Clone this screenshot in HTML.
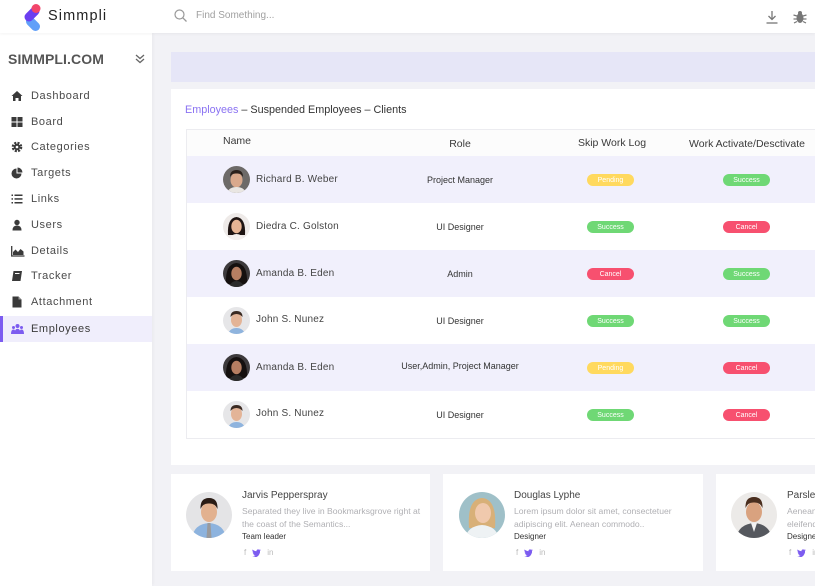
<!DOCTYPE html>
<html><head><meta charset="utf-8">
<style>
*{margin:0;padding:0;box-sizing:border-box}
html,body{width:815px;height:586px;overflow:hidden}
body{background:#f2f2f6;font-family:"Liberation Sans",sans-serif;position:relative}
.abs{position:absolute}
#hdr{left:0;top:0;width:815px;height:33px;background:#fff;box-shadow:0 1px 3px rgba(0,0,0,0.05);z-index:3}
#side{left:0;top:33px;width:152px;height:553px;background:#fff;box-shadow:1px 0 3px rgba(0,0,0,0.04);z-index:2}
.mi{position:absolute;left:0;width:152px;height:26px;font-size:11px;letter-spacing:0.6px;color:#4a4a4a;line-height:26px;padding-left:31px}
.mi svg{position:absolute;left:11px;top:7px}
.band{left:171px;top:52px;width:644px;height:30px;background:#e6e6f7}
.main{left:171px;top:89px;width:644px;height:376px;background:#fff}
.tbl{left:186px;top:129px;width:629px;height:310px;border:1px solid #ececf0;border-right:none;background:#fff;overflow:hidden}
.th{position:absolute;font-size:10.5px;color:#3a3a3a;top:0;height:26px;line-height:28px;white-space:nowrap}
.row{position:absolute;left:0;width:629px;height:47px}
.row.alt{background:#f1f0fc}
.av{position:absolute;left:36px;top:10px;width:27px;height:27px;border-radius:50%;overflow:hidden}
.nm{position:absolute;left:69px;top:0;line-height:47px;font-size:10px;color:#444;letter-spacing:0.2px}
.rl{position:absolute;left:203px;width:140px;text-align:center;line-height:47px;font-size:9px;color:#333;top:1px}
.bd{position:absolute;width:47px;height:12px;border-radius:6px;color:#fff;font-size:7px;top:18px;display:flex;align-items:center;justify-content:center}
.pe{background:#ffd95e}.su{background:#6fd875}.ca{background:#f7506f}
.c1{left:400px}.c2{left:536px}
.card{top:474px;height:97px;background:#fff;overflow:hidden}
.cav{position:absolute;left:15px;top:18px;width:46px;height:46px;border-radius:50%;overflow:hidden}
.cn{position:absolute;left:71px;top:16px;font-size:10px;color:#444;white-space:nowrap}
.cd{position:absolute;left:71px;top:31px;font-size:8.6px;color:#b0b0b4;line-height:12.5px;white-space:nowrap}
.cr{position:absolute;left:71px;top:58px;font-size:8px;color:#333;white-space:nowrap}
.cs{position:absolute;left:73px;top:74px;font-size:8px;color:#bbb;white-space:nowrap;display:flex;align-items:center;gap:6px}
</style></head><body>

<div id="hdr" class="abs">
  <svg class="abs" style="left:0;top:0" width="45" height="33" viewBox="0 0 45 33">
    <line x1="30.5" y1="21.5" x2="35.5" y2="26.5" stroke="#62a0f8" stroke-width="9" stroke-linecap="round"/>
    <line x1="35" y1="11" x2="29" y2="17" stroke="#6b3ef0" stroke-width="9" stroke-linecap="round"/>
    <circle cx="36" cy="8.5" r="4.5" fill="#f2456a"/>
  </svg>
  <div class="abs" style="left:48px;top:8px;font-size:14.5px;letter-spacing:1.1px;color:#222">Simmpli</div>
  <svg class="abs" style="left:174px;top:9px" width="13" height="13" viewBox="0 0 13 13"><circle cx="5.5" cy="5.5" r="4.5" fill="none" stroke="#999" stroke-width="1.2"/><line x1="8.8" y1="8.8" x2="12.5" y2="12.5" stroke="#999" stroke-width="1.3"/></svg>
  <div class="abs" style="left:196px;top:10px;font-size:10px;color:#a0a0a0">Find Something...</div>
  <svg class="abs" style="left:766px;top:10px" width="12" height="14" viewBox="0 0 12 14"><line x1="6" y1="1" x2="6" y2="9" stroke="#777" stroke-width="1.3"/><polyline points="2.5,6 6,9.5 9.5,6" fill="none" stroke="#777" stroke-width="1.3"/><line x1="0.5" y1="13" x2="11.5" y2="13" stroke="#777" stroke-width="1.3"/></svg>
  <svg class="abs" style="left:793px;top:10px" width="14" height="14" viewBox="0 0 14 14"><ellipse cx="7" cy="8" rx="3.5" ry="5" fill="#777"/><circle cx="7" cy="3" r="2" fill="#777"/><g stroke="#777" stroke-width="1.2"><line x1="0.5" y1="5" x2="4" y2="6"/><line x1="13.5" y1="5" x2="10" y2="6"/><line x1="0.5" y1="9" x2="4" y2="9"/><line x1="13.5" y1="9" x2="10" y2="9"/><line x1="1" y1="13" x2="4" y2="11.5"/><line x1="13" y1="13" x2="10" y2="11.5"/></g></svg>
</div>

<div id="side" class="abs">
  <div class="abs" style="left:8px;top:18px;font-size:14px;font-weight:bold;color:#555;letter-spacing:0.1px">SIMMPLI.COM</div>
  <svg class="abs" style="left:135px;top:21px" width="10" height="10" viewBox="0 0 10 10"><polyline points="1,1 5,4.5 9,1" fill="none" stroke="#666" stroke-width="1.3"/><polyline points="1,5 5,8.5 9,5" fill="none" stroke="#666" stroke-width="1.3"/></svg>

  <div class="mi" style="top:50px"><svg width="12" height="12" viewBox="0 0 12 12"><path d="M6 1 L11.5 6 L10 6 L10 11 L7.5 11 L7.5 8 L4.5 8 L4.5 11 L2 11 L2 6 L0.5 6Z" fill="#3a3a3a"/></svg>Dashboard</div>
  <div class="mi" style="top:76px"><svg width="12" height="12" viewBox="0 0 12 12"><rect x="0.5" y="1" width="5" height="4.5" fill="#3a3a3a"/><rect x="6.5" y="1" width="5" height="4.5" fill="#3a3a3a"/><rect x="0.5" y="6.5" width="5" height="4.5" fill="#3a3a3a"/><rect x="6.5" y="6.5" width="5" height="4.5" fill="#3a3a3a"/></svg>Board</div>
  <div class="mi" style="top:101px"><svg width="12" height="12" viewBox="0 0 12 12"><circle cx="6" cy="6" r="4" fill="none" stroke="#3a3a3a" stroke-width="2.6" stroke-dasharray="2 1.2"/><circle cx="6" cy="6" r="3.2" fill="#3a3a3a"/><circle cx="6" cy="6" r="1.3" fill="#fff"/></svg>Categories</div>
  <div class="mi" style="top:127px"><svg width="12" height="12" viewBox="0 0 12 12"><path d="M5.5 1.5 A5 5 0 1 0 10.5 6.5 L5.5 6.5Z" fill="#3a3a3a"/><path d="M6.5 0.5 A5 5 0 0 1 11.5 5.5 L6.5 5.5Z" fill="#3a3a3a"/></svg>Targets</div>
  <div class="mi" style="top:153px"><svg width="12" height="12" viewBox="0 0 12 12"><g fill="#3a3a3a"><rect x="0.5" y="1.5" width="1.5" height="1.5"/><rect x="0.5" y="5.2" width="1.5" height="1.5"/><rect x="0.5" y="9" width="1.5" height="1.5"/><rect x="3.5" y="1.5" width="8" height="1.5"/><rect x="3.5" y="5.2" width="8" height="1.5"/><rect x="3.5" y="9" width="8" height="1.5"/></g></svg>Links</div>
  <div class="mi" style="top:179px"><svg width="12" height="12" viewBox="0 0 12 12"><circle cx="6" cy="3.5" r="2.7" fill="#3a3a3a"/><path d="M1.5 11.5 Q1.5 6.5 6 6.5 Q10.5 6.5 10.5 11.5Z" fill="#3a3a3a"/></svg>Users</div>
  <div class="mi" style="top:205px"><svg width="14" height="12" viewBox="0 0 14 12"><path d="M0.7 1 L0.7 11 L13.5 11" fill="none" stroke="#3a3a3a" stroke-width="1.3"/><path d="M2 10 L2 7 L4.5 4.5 L7 7 L9.5 4 L12.5 6.5 L12.5 10Z" fill="#3a3a3a"/></svg>Details</div>
  <div class="mi" style="top:230px"><svg width="12" height="12" viewBox="0 0 12 12"><path d="M2.5 1 L11 1 L9.5 11 L1 11Z" fill="#3a3a3a"/><rect x="4" y="3" width="4.5" height="1" fill="#fff"/></svg>Tracker</div>
  <div class="mi" style="top:256px"><svg width="12" height="12" viewBox="0 0 12 12"><path d="M1.5 0.5 L7.5 0.5 L10.5 3.5 L10.5 11.5 L1.5 11.5Z" fill="#3a3a3a"/><path d="M7.5 0.5 L7.5 3.5 L10.5 3.5" fill="#999"/></svg>Attachment</div>
  <div class="mi" style="top:283px;background:#f0eefc;height:26px;color:#3a3a3a"><div class="abs" style="left:0;top:0;width:3px;height:26px;background:#7c5cf0"></div><svg width="13" height="12" viewBox="0 0 13 12"><g fill="#7c5cf0"><circle cx="6.5" cy="3" r="2"/><circle cx="2.5" cy="4.5" r="1.5"/><circle cx="10.5" cy="4.5" r="1.5"/><path d="M3.5 11 Q3.5 5.7 6.5 5.7 Q9.5 5.7 9.5 11Z"/><path d="M0 11 Q0 6.5 2.5 6.5 Q4 6.5 4 8 L4 11Z"/><path d="M13 11 Q13 6.5 10.5 6.5 Q9 6.5 9 8 L9 11Z"/></g></svg>Employees</div>
</div>

<div class="abs band"></div>
<div class="abs main">
  <div class="abs" style="left:14px;top:15px;font-size:10.8px;color:#333;white-space:nowrap"><span style="color:#8a72f2">Employees</span> – Suspended Employees – Clients</div>
</div>

<div class="abs tbl">
  <div class="abs" style="left:0;top:0;width:629px;height:26px;background:#fcfcfc"></div>
  <div class="th" style="left:36px;top:-3px">Name</div>
  <div class="th" style="left:203px;width:140px;text-align:center">Role</div>
  <div class="th" style="left:370px;width:110px;text-align:center;top:-1px">Skip Work Log</div>
  <div class="th" style="left:490px;width:140px;text-align:center">Work Activate/Desctivate</div>

  <div class="row alt" style="top:26px">
    <div class="av"><svg width="27" height="27" viewBox="0 0 27 27"><rect width="27" height="27" fill="#6d6a68"/><ellipse cx="13.5" cy="14" rx="6" ry="7.5" fill="#d9a98c"/><path d="M7 11 Q7 4 13.5 4 Q20 4 20 11 Q18 7 13.5 7.5 Q9 7 7 11Z" fill="#2b211c"/><path d="M4 27 Q6 21 13.5 21 Q21 21 23 27Z" fill="#e9e6e2"/></svg></div>
    <div class="nm">Richard B. Weber</div><div class="rl">Project Manager</div>
    <div class="bd pe c1">Pending</div><div class="bd su c2">Success</div>
  </div>
  <div class="row" style="top:73px">
    <div class="av"><svg width="27" height="27" viewBox="0 0 27 27"><rect width="27" height="27" fill="#eeeae8"/><path d="M5 22 Q4 5 13.5 4 Q23 5 22 22Z" fill="#1e1412"/><ellipse cx="13.5" cy="13.5" rx="5.2" ry="6.8" fill="#e7b594"/><path d="M6 27 Q8 21 13.5 21 Q19 21 21 27Z" fill="#f4f0ee"/></svg></div>
    <div class="nm">Diedra C. Golston</div><div class="rl">UI Designer</div>
    <div class="bd su c1">Success</div><div class="bd ca c2">Cancel</div>
  </div>
  <div class="row alt" style="top:120px">
    <div class="av"><svg width="27" height="27" viewBox="0 0 27 27"><rect width="27" height="27" fill="#3d3a3c"/><path d="M3 24 Q2 4 13.5 3 Q25 4 24 24Z" fill="#15100f"/><ellipse cx="13.5" cy="13.5" rx="5.2" ry="6.8" fill="#b67e62"/><path d="M6 27 Q8 21 13.5 21 Q19 21 21 27Z" fill="#2a2a2a"/></svg></div>
    <div class="nm">Amanda B. Eden</div><div class="rl">Admin</div>
    <div class="bd ca c1">Cancel</div><div class="bd su c2">Success</div>
  </div>
  <div class="row" style="top:167px">
    <div class="av"><svg width="27" height="27" viewBox="0 0 27 27"><rect width="27" height="27" fill="#e6e6e8"/><ellipse cx="13.5" cy="13" rx="5.5" ry="7" fill="#e3b497"/><path d="M7.5 10 Q7.5 4 13.5 4 Q19.5 4 19.5 10 Q17 7 13.5 7 Q10 7 7.5 10Z" fill="#3a2a22"/><path d="M5 27 Q7 21 13.5 21 Q20 21 22 27Z" fill="#8fb4de"/></svg></div>
    <div class="nm" style="top:-1px">John S. Nunez</div><div class="rl">UI Designer</div>
    <div class="bd su c1">Success</div><div class="bd su c2">Success</div>
  </div>
  <div class="row alt" style="top:214px">
    <div class="av"><svg width="27" height="27" viewBox="0 0 27 27"><rect width="27" height="27" fill="#3d3a3c"/><path d="M3 24 Q2 4 13.5 3 Q25 4 24 24Z" fill="#15100f"/><ellipse cx="13.5" cy="13.5" rx="5.2" ry="6.8" fill="#b67e62"/><path d="M6 27 Q8 21 13.5 21 Q19 21 21 27Z" fill="#2a2a2a"/></svg></div>
    <div class="nm">Amanda B. Eden</div><div class="rl" style="top:-1px">User,Admin, Project Manager</div>
    <div class="bd pe c1">Pending</div><div class="bd ca c2">Cancel</div>
  </div>
  <div class="row" style="top:261px">
    <div class="av"><svg width="27" height="27" viewBox="0 0 27 27"><rect width="27" height="27" fill="#e6e6e8"/><ellipse cx="13.5" cy="13" rx="5.5" ry="7" fill="#e3b497"/><path d="M7.5 10 Q7.5 4 13.5 4 Q19.5 4 19.5 10 Q17 7 13.5 7 Q10 7 7.5 10Z" fill="#3a2a22"/><path d="M5 27 Q7 21 13.5 21 Q20 21 22 27Z" fill="#8fb4de"/></svg></div>
    <div class="nm" style="top:-1px">John S. Nunez</div><div class="rl">UI Designer</div>
    <div class="bd su c1">Success</div><div class="bd ca c2">Cancel</div>
  </div>
</div>

<div class="abs card" style="left:171px;width:259px">
  <div class="cav"><svg width="46" height="46" viewBox="0 0 46 46"><rect width="46" height="46" fill="#e4e4e6"/><ellipse cx="23" cy="20" rx="8" ry="10" fill="#e2b18f"/><path d="M14.5 17 Q14 6 23 6 Q32 6 31.5 17 Q29 11 23 11.5 Q17 11 14.5 17Z" fill="#2a1c15"/><path d="M6 46 Q8 32 23 31 Q38 32 40 46Z" fill="#8db3de"/><path d="M21.5 31 L24.5 31 L25.5 46 L20.5 46Z" fill="#9a9a9c"/></svg></div>
  <div class="cn">Jarvis Pepperspray</div>
  <div class="cd">Separated they live in Bookmarksgrove right at<br>the coast of the Semantics...</div>
  <div class="cr">Team leader</div>
  <div class="cs"><span>f</span><svg width="9" height="8" viewBox="0 0 9 8"><path d="M9 1 Q8 1.5 7.5 1.5 Q8.3 1 8.5 0.2 Q7.7 0.7 7.2 0.7 Q5 -0.5 4.3 2.2 Q2 2 0.5 0.5 Q0 2.5 1.5 3.5 Q1 3.5 0.7 3.3 Q0.8 5 2.5 5.3 Q2 5.5 1.3 5.4 Q2 6.7 3.5 6.8 Q2 8 0 7.6 Q6 10 8 3.5 L8 2 Z" fill="#7c5cf0"/></svg><span>in</span></div>
</div>
<div class="abs card" style="left:443px;width:260px">
  <div class="cav" style="left:16px"><svg width="46" height="46" viewBox="0 0 46 46"><rect width="46" height="46" fill="#9fc0c8"/><path d="M10 36 Q8 7 23 6 Q38 7 36 36Z" fill="#d8b078"/><ellipse cx="24" cy="21" rx="8" ry="10" fill="#f0c9ad"/><path d="M6 46 Q9 34 23 33 Q37 34 40 46Z" fill="#eef2f4"/></svg></div>
  <div class="cn">Douglas Lyphe</div>
  <div class="cd">Lorem ipsum dolor sit amet, consectetuer<br>adipiscing elit. Aenean commodo..</div>
  <div class="cr">Designer</div>
  <div class="cs"><span>f</span><svg width="9" height="8" viewBox="0 0 9 8"><path d="M9 1 Q8 1.5 7.5 1.5 Q8.3 1 8.5 0.2 Q7.7 0.7 7.2 0.7 Q5 -0.5 4.3 2.2 Q2 2 0.5 0.5 Q0 2.5 1.5 3.5 Q1 3.5 0.7 3.3 Q0.8 5 2.5 5.3 Q2 5.5 1.3 5.4 Q2 6.7 3.5 6.8 Q2 8 0 7.6 Q6 10 8 3.5 L8 2 Z" fill="#7c5cf0"/></svg><span>in</span></div>
</div>
<div class="abs card" style="left:716px;width:99px">
  <div class="cav" style="left:15px"><svg width="46" height="46" viewBox="0 0 46 46"><rect width="46" height="46" fill="#eceae8"/><ellipse cx="23" cy="20" rx="8" ry="10" fill="#d9a27f"/><path d="M14.5 16 Q14 5 23 5 Q32 5 31.5 16 Q29 10 23 10.5 Q17 10 14.5 16Z" fill="#4a2e1e"/><path d="M5 46 Q8 32 23 31 Q38 32 41 46Z" fill="#55585e"/><path d="M20 31 L26 31 L23 40Z" fill="#f2f2f2"/></svg></div>
  <div class="cn">Parsley Montana</div>
  <div class="cd">Aenean vulputate eleifend<br>eleifend tellus. Aenean leo..</div>
  <div class="cr">Designer</div>
  <div class="cs"><span>f</span><svg width="9" height="8" viewBox="0 0 9 8"><path d="M9 1 Q8 1.5 7.5 1.5 Q8.3 1 8.5 0.2 Q7.7 0.7 7.2 0.7 Q5 -0.5 4.3 2.2 Q2 2 0.5 0.5 Q0 2.5 1.5 3.5 Q1 3.5 0.7 3.3 Q0.8 5 2.5 5.3 Q2 5.5 1.3 5.4 Q2 6.7 3.5 6.8 Q2 8 0 7.6 Q6 10 8 3.5 L8 2 Z" fill="#7c5cf0"/></svg><span>in</span></div>
</div>

</body></html>
